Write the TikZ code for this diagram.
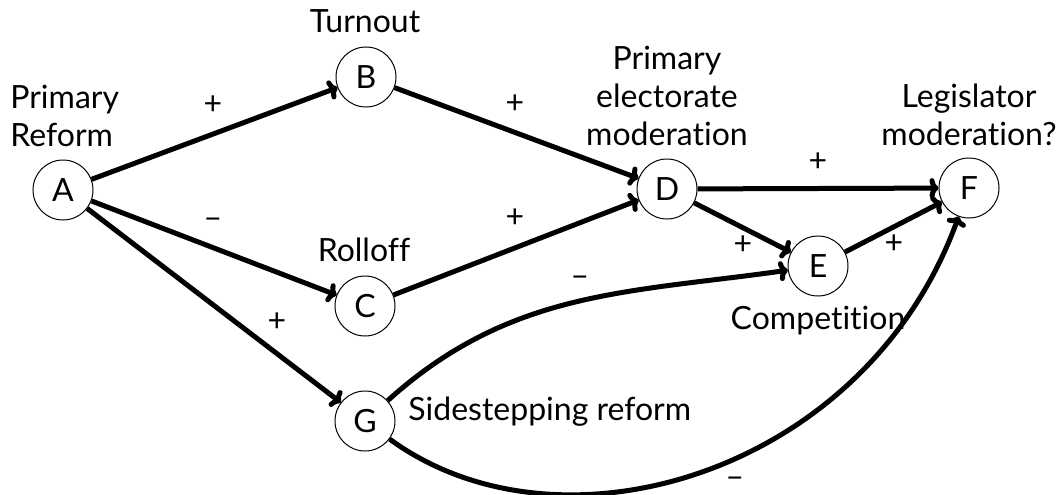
\documentclass[tikz,border=0pt]{standalone}
\usepackage{fontspec}
\setmainfont{Lato}[Ligatures=NoCommon]
\usetikzlibrary{arrows.meta}

\begin{document}
\begin{tikzpicture}[x=0.5pt,y=0.5pt,
  every node/.style={font=\fontsize{16}{19}\selectfont},
  state/.style={circle, draw, line width=0.5pt, minimum size=30pt, inner sep=0pt},
  link/.style={-{To[length=4.5pt,width=10pt]}, line width=2.5pt},
  lbl/.style={inner sep=0pt, anchor=base},
  sign/.style={inner sep=0pt, text height=0.56em, text depth=0pt}]

  \useasboundingbox (0,0) rectangle (1060,494);

  % the variables
  \node[state] (A) at (63,304)  {A};
  \node[state] (B) at (366,417) {B};
  \node[state] (C) at (365,188) {C};
  \node[state] (D) at (667,305) {D};
  \node[state] (E) at (818,228) {E};
  \node[state] (F) at (969,306) {F};
  \node[state] (G) at (365,73)  {G};

  % names of the variables (base = last line)
  \node[lbl, anchor=base west, align=left] (nA) at (10,348) {Primary\\Reform};
  \node[lbl] (nB) at (365,461) {Turnout};
  \node[lbl] (nC) at (364,233) {Rolloff};
  \node[lbl, align=center] (nD) at (667,349) {Primary\\electorate\\moderation};
  \node[lbl] (nE) at (818,165) {Competition};
  \node[lbl, align=center] (nF) at (969,349) {Legislator\\moderation?};
  \node[lbl, anchor=base west] (nG) at (408,74) {Sidestepping reform};

  % straight effects
  \draw[link] (A) -- (B);
  \draw[link] (A) -- (C);
  \draw[link] (A) -- (G);
  \draw[link] (B) -- (D);
  \draw[link] (C) -- (D);
  \draw[link] (D) -- (F);
  \draw[link] (D) -- (E);
  \draw[link] (E) -- (F);

  % curved effects of sidestepping
  \draw[link] (G) to[out=42, in=188] (E);
  \draw[link] (G) .. controls (560,-70) and (865,20) .. (F);

  % signs of the effects
  \node[sign] (sAB) at (213,385) {+};
  \node[sign] (sAC) at (213,271) {\textendash};
  \node[sign] (sAG) at (277,168) {+};
  \node[sign] (sBD) at (515,386) {+};
  \node[sign] (sCD) at (515,272) {+};
  \node[sign] (sDF) at (818,328) {+};
  \node[sign] (sDE) at (743,245) {+};
  \node[sign] (sEF) at (894,246) {+};
  \node[sign] (sGE) at (580,213) {\textendash};
  \node[sign] (sGF) at (735,12)  {\textendash};

\end{tikzpicture}
\end{document}
